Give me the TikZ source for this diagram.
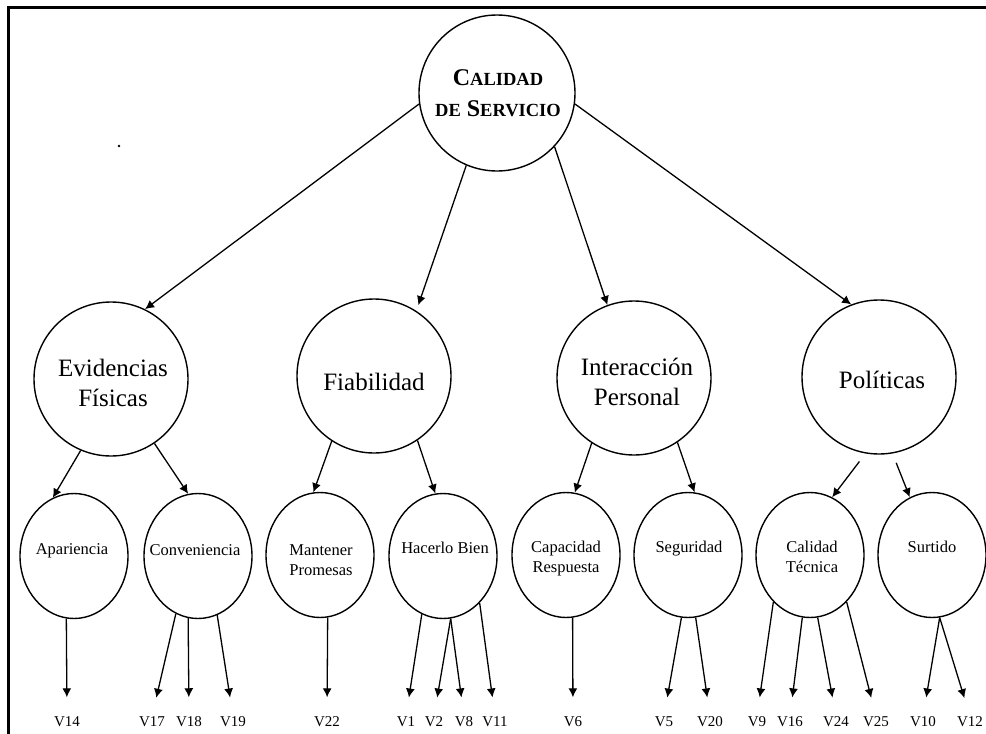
\documentclass[tikz,border=0pt]{standalone}
\usepackage{fontspec}
\setmainfont{Liberation Serif}
\usetikzlibrary{arrows.meta,shapes.geometric}

\newcommand{\scpart}[1]{{\fontsize{18.5}{31}\selectfont #1}}

\begin{document}
\begin{tikzpicture}[x=1pt,y=-1pt,every path/.style={line width=1.3pt},every text node part/.style={align=center},
	root/.style={draw,circle,minimum size=156pt,inner sep=0pt,line width=1.4pt},
	factor/.style={draw,circle,minimum size=154pt,inner sep=0pt,line width=1.4pt},
	dimen/.style={draw,ellipse,minimum width=108pt,minimum height=125pt,inner sep=0pt,line width=1.4pt},
	roottxt/.style={font=\bfseries\fontsize{24}{31}\selectfont},
	bigtxt/.style={font=\fontsize{25}{30}\selectfont},
	smalltxt/.style={font=\fontsize{16.5}{20}\selectfont},
	vtxt/.style={font=\fontsize{15}{17}\selectfont,inner sep=0pt},
	arr/.style={-{Latex[length=9pt,width=9pt]}}]
	\useasboundingbox (0,0) rectangle (986,734);
	\draw[line width=3pt] (8,734) -- (8,7) -- (986,7);
	\fill (119,146) circle (1.4pt);

	% shapes
	\node[root] (calidad) at (497,93) {};
	\node[factor] (evid) at (111,379) {};
	\node[factor] (fiab) at (374,376) {};
	\node[factor] (inter) at (634,378) {};
	\node[factor] (polit) at (879,377) {};

	\node[dimen] (apar) at (74,556) {};
	\node[dimen] (conv) at (198,556) {};
	\node[dimen] (mant) at (320,555) {};
	\node[dimen] (hacer) at (443,556) {};
	\node[dimen] (capac) at (566,555) {};
	\node[dimen] (segur) at (688,555) {};
	\node[dimen] (tecn) at (810,555) {};
	\node[dimen] (surt) at (932,555) {};

	% texts
	\node[roottxt] (calidad-t) at (498,93) {C\scpart{ALIDAD}\\\scpart{DE} S\scpart{ERVICIO}};
	\node[bigtxt] (evid-t) at (113,383) {Evidencias\\Físicas};
	\node[bigtxt] (fiab-t) at (374,382) {Fiabilidad};
	\node[bigtxt] (inter-t) at (637,382) {Interacción\\Personal};
	\node[bigtxt] (polit-t) at (882,380) {Políticas};

	\node[smalltxt] (apar-t) at (72,551) {Apariencia};
	\node[smalltxt] (conv-t) at (195,550) {Conveniencia};
	\node[smalltxt] (mant-t) at (321,560) {Mantener\\Promesas};
	\node[smalltxt] (hacer-t) at (445,548) {Hacerlo Bien};
	\node[smalltxt] (capac-t) at (566,559) {Capacidad\\Respuesta};
	\node[smalltxt] (segur-t) at (689,549) {Seguridad};
	\node[smalltxt] (tecn-t) at (812,557) {Calidad\\Técnica};
	\node[smalltxt] (surt-t) at (932,547) {Surtido};

	\node[vtxt] (v14) at (67,722) {V14};
	\node[vtxt] (v17) at (152,722) {V17};
	\node[vtxt] (v18) at (189,722) {V18};
	\node[vtxt] (v19) at (233,722) {V19};
	\node[vtxt] (v22) at (327,722) {V22};
	\node[vtxt] (v1) at (406,722) {V1};
	\node[vtxt] (v2) at (434,722) {V2};
	\node[vtxt] (v8) at (464,722) {V8};
	\node[vtxt] (v11) at (495,722) {V11};
	\node[vtxt] (v6) at (573,722) {V6};
	\node[vtxt] (v5) at (664,722) {V5};
	\node[vtxt] (v20) at (710,722) {V20};
	\node[vtxt] (v9) at (757,722) {V9};
	\node[vtxt] (v16) at (790,722) {V16};
	\node[vtxt] (v24) at (836,722) {V24};
	\node[vtxt] (v25) at (876,722) {V25};
	\node[vtxt] (v10) at (923,722) {V10};
	\node[vtxt] (v12) at (970,722) {V12};

	% arrows from the root
	\draw[arr] (calidad.188) -- (evid.64);
	\draw[arr,shorten >=6pt] (calidad.247) -- (fiab.57);
	\draw[arr] (calidad.317) -- (inter.110);
	\draw[arr] (calidad.352) -- (polit.111);

	% arrows to the dimensions
	\draw[arr] (evid.247) -- (apar.110);
	\draw[arr] (evid.304) -- (conv.99);
	\draw[arr] (fiab.237) -- (mant.96);
	\draw[arr] (fiab.304) -- (hacer.97);
	\draw[arr] (inter.237) -- (capac.82);
	\draw[arr] (inter.304) -- (segur.84);
	\draw[arr,shorten <=10pt] (polit.260) -- (tecn.69);
	\draw[arr,shorten <=10pt] (polit.280) -- (surt.111);

	% arrows to the variables
	\draw[arr,shorten >=19pt] (apar.263) -- (v14.north);
	\draw[arr,shorten >=19pt] (conv.249) -- (v17.north);
	\draw[arr,shorten >=19pt] (conv.261) -- (v18.north);
	\draw[arr,shorten >=19pt] (conv.288) -- (v19.north);
	\draw[arr,shorten >=19pt] (mant.277) -- (v22.north);
	\draw[arr,shorten >=19pt] (hacer.250) -- (v1.north);
	\draw[arr,shorten >=19pt] (hacer.277) -- (v2.north);
	\draw[arr,shorten >=19pt] (hacer.277) -- (v8.north);
	\draw[arr,shorten >=19pt] (hacer.308) -- (v11.north);
	\draw[arr,shorten >=19pt] (capac.276) -- (v6.north);
	\draw[arr,shorten >=19pt] (segur.264) -- (v5.north);
	\draw[arr,shorten >=19pt] (segur.277) -- (v20.north);
	\draw[arr,shorten >=19pt] (tecn.232) -- (v9.north);
	\draw[arr,shorten >=19pt] (tecn.263) -- (v16.north);
	\draw[arr,shorten >=19pt] (tecn.277) -- (v24.north);
	\draw[arr,shorten >=19pt] (tecn.308) -- (v25.north);
	\draw[arr,shorten >=19pt] (surt.277) -- (v10.north);
	\draw[arr,shorten >=19pt] (surt.277) -- (v12.north);
\end{tikzpicture}
\end{document}
